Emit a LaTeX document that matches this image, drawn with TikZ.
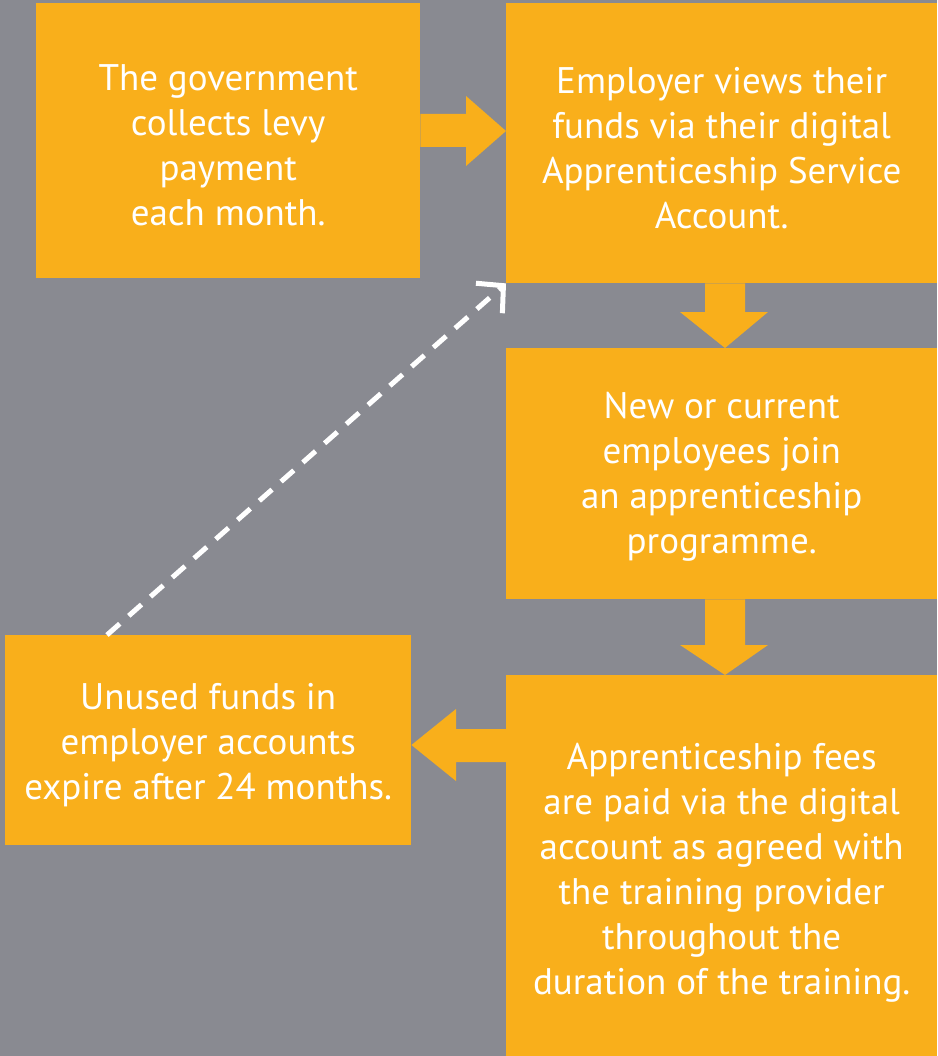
\documentclass[tikz,border=0pt]{standalone}
\usepackage{fontspec}
\setmainfont{PT Sans}
\usetikzlibrary{arrows.meta,calc}
\definecolor{bgc}{RGB}{137,138,145}
\definecolor{boxc}{RGB}{249,175,27}
\newcommand{\topstrut}[1]{\rule{0pt}{#1pt}}
\begin{document}
\begin{tikzpicture}[x=1pt,y=-1pt,
  stepbox/.style={fill=boxc,text=white,inner sep=0pt,align=center,anchor=north west,
    font=\fontsize{37}{45}\selectfont},
  blockarrow/.style={fill=boxc},
  dasharrow/.style={draw=white,line width=5pt,dash pattern=on 17pt off 12pt,
    -{Straight Barb[length=19pt,width=40pt]}}]
\fill[bgc] (0,0) rectangle (937,1056);
\useasboundingbox (0,0) rectangle (937,1056);

\node[stepbox,minimum width=384pt,minimum height=275pt] (gov) at (36,3)
  {\topstrut{36}The government\\collects levy\\payment\\each month.};
\node[stepbox,minimum width=431pt,minimum height=280pt] (emp) at (506,3)
  {\topstrut{36}Employer views their\\funds via their digital\\Apprenticeship Service\\Account.};
\node[stepbox,minimum width=431pt,minimum height=251pt] (join) at (506,348)
  {\topstrut{33}New or current\\employees join\\an apprenticeship\\programme.};
\node[stepbox,minimum width=431pt,minimum height=381pt] (fees) at (506,675)
  {\topstrut{40}Apprenticeship fees\\are paid via the digital\\account as agreed with\\the training provider\\throughout the\\duration of the training.};
\node[stepbox,minimum width=406pt,minimum height=210pt] (unused) at (5,635)
  {\topstrut{36}Unused funds in\\employer accounts\\expire after 24 months.};

\fill[blockarrow] (gov.east |- 0,114) -- (466,114) -- (466,96) -- (emp.west |- 0,131)
  -- (466,166) -- (466,147) -- (gov.east |- 0,147) -- cycle;
\fill[blockarrow] (705,0 |- emp.south) -- (705,312) -- (680,312) -- (join.north -| 725,0)
  -- (768,312) -- (745,312) -- (745,0 |- emp.south) -- cycle;
\fill[blockarrow] (705,0 |- join.south) -- (705,645) -- (680,645) -- (fees.north -| 725,0)
  -- (768,645) -- (745,645) -- (745,0 |- join.south) -- cycle;
\fill[blockarrow] (fees.west |- 0,729) -- (456,729) -- (456,709) -- (unused.east |- 0,745)
  -- (456,781) -- (456,762) -- (fees.west |- 0,762) -- cycle;

\draw[dasharrow] (unused.north -| 107,0) -- (emp.south west);
\end{tikzpicture}
\end{document}
